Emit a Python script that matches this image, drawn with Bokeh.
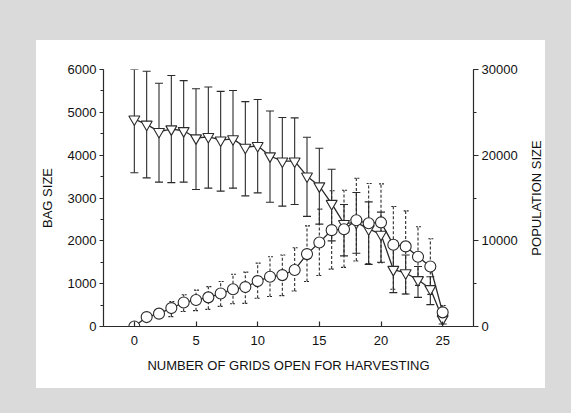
from bokeh.plotting import figure
from bokeh.models import (Range1d, LinearAxis, SingleIntervalTicker, FixedTicker,
                          Whisker, TeeHead, ColumnDataSource, Spacer)
from bokeh.layouts import column, row
from bokeh.embed import file_html
from bokeh.resources import INLINE

# ---- data ----
grids = list(range(26))

bag_size = [4840, 4720, 4550, 4610, 4570, 4400, 4430, 4350, 4380, 4180,
            4220, 3980, 3860, 3860, 3510, 3280, 2870, 2400, 2430, 2280,
            2150, 1330, 1250, 1090, 880, 180]
bag_upper = [6000, 5960, 5680, 5860, 5740, 5550, 5590, 5490, 5510, 5250,
             5300, 5030, 4880, 4870, 4420, 4160, 3670, 2850, 3130, 2910,
             2670, 2000, 1670, 1400, 1160, 330]
bag_lower = [3590, 3470, 3370, 3360, 3370, 3200, 3230, 3160, 3230, 3050,
             3120, 2900, 2810, 2850, 2570, 2390, 2000, 1650, 1710, 1450,
             1500, 790, 760, 680, 510, 60]

pop_size = [0, 1100, 1500, 2150, 2800, 3100, 3400, 3850, 4350, 4600,
            5300, 5800, 6000, 6600, 8450, 9800, 11250, 11350, 12400, 12050,
            12150, 9550, 9350, 8150, 7000, 1650]
pop_upper = [0, 1300, 1950, 2900, 3700, 4250, 4650, 5250, 6100, 6350,
             7400, 8150, 8350, 9200, 11750, 13700, 15850, 15900, 17300, 16700,
             16650, 14000, 13500, 11650, 10250, 2450]
pop_lower = [0, 850, 1000, 1150, 1750, 1850, 2000, 2350, 2650, 2700,
             3300, 3500, 3600, 4150, 5250, 5950, 6700, 6900, 7650, 7350,
             7450, 4350, 3800, 4800, 3750, 1000]

x_ticks_interval = 5
bag_ticks_interval = 1000
pop_ticks_interval = 10000

x_title = "NUMBER OF GRIDS OPEN FOR HARVESTING"
left_title = "BAG SIZE"
right_title = "POPULATION SIZE"

# ---- styling ----
FONT = "Liberation Sans"
TXT = "#111111"
LINE = "#2a2a2a"
BG = "#dadada"

p = figure(width=484, height=348, output_backend="svg", toolbar_location=None,
           x_range=Range1d(-2.5, 27.5), y_range=Range1d(0, 6000),
           min_border_left=65, min_border_right=45, min_border_top=29,
           min_border_bottom=62, border_fill_color="white",
           background_fill_color="white", outline_line_color=None)
p.extra_y_ranges = {"pop": Range1d(0, 30000)}
p.grid.visible = False

# axes
p.xaxis.ticker = SingleIntervalTicker(interval=x_ticks_interval, num_minor_ticks=0)
p.yaxis.ticker = SingleIntervalTicker(interval=bag_ticks_interval, num_minor_ticks=2)
p.xaxis.axis_label = x_title
p.yaxis.axis_label = left_title

right = LinearAxis(y_range_name="pop",
                   ticker=SingleIntervalTicker(interval=pop_ticks_interval, num_minor_ticks=2))
p.add_layout(right, "right")

for ax in [p.xaxis[0], p.yaxis[0], right]:
    ax.axis_line_color = LINE
    ax.axis_line_width = 1.2
    ax.major_tick_line_color = LINE
    ax.minor_tick_line_color = LINE
    ax.major_tick_line_width = 1.2
    ax.major_label_text_font = FONT
    ax.major_label_text_font_size = "13px"
    ax.major_label_text_color = TXT
    ax.axis_label_text_font = FONT
    ax.axis_label_text_font_size = "13px"
    ax.axis_label_text_font_style = "normal"
    ax.axis_label_text_color = TXT

xa = p.xaxis[0]
xa.major_tick_in = 5
xa.major_tick_out = 0
xa.minor_tick_in = 0
xa.minor_tick_out = 0
xa.major_label_standoff = 9
xa.axis_label_standoff = 10

ya = p.yaxis[0]
ya.major_tick_in = 0
ya.major_tick_out = 4
ya.minor_tick_in = 0
ya.minor_tick_out = 3
ya.major_label_standoff = 3
ya.axis_label_standoff = 10

right.major_tick_in = 0
right.major_tick_out = 5
right.minor_tick_in = 0
right.minor_tick_out = 3
right.major_label_standoff = 3

src = ColumnDataSource(dict(x=grids, bag=bag_size, bu=bag_upper, bl=bag_lower,
                            pop=pop_size, pu=pop_upper, pl=pop_lower))

# error bars
w_bag = Whisker(source=src, base="x", upper="bu", lower="bl",
                line_color=LINE, line_width=1.1,
                upper_head=TeeHead(size=8, line_color=LINE, line_width=1.1),
                lower_head=TeeHead(size=8, line_color=LINE, line_width=1.1),
                level="underlay")
w_pop = Whisker(source=src, base="x", upper="pu", lower="pl", y_range_name="pop",
                line_color=LINE, line_width=1.1, line_dash="3 2",
                upper_head=TeeHead(size=6, line_color=LINE, line_width=1.1, line_dash="2 1"),
                lower_head=TeeHead(size=6, line_color=LINE, line_width=1.1, line_dash="2 1"),
                level="underlay")
p.add_layout(w_bag)
p.add_layout(w_pop)

# bag size series (left axis)
p.line("x", "bag", source=src, line_color=LINE, line_width=1.3)
p.scatter("x", "bag", source=src, marker="inverted_triangle", size=11,
          fill_color="white", line_color=LINE, line_width=1.1)

# population series (right axis)
p.line("x", "pop", source=src, y_range_name="pop", line_color=LINE, line_width=1.3)
p.scatter("x", "pop", source=src, y_range_name="pop", marker="circle", size=11,
          fill_color="white", line_color=LINE, line_width=1.1)

# narrow strip holding the right-hand title, which reads bottom-to-top
t = figure(width=25, height=348, output_backend="svg", toolbar_location=None,
           x_axis_location=None, y_axis_location="left",
           x_range=Range1d(0, 1), y_range=Range1d(0, 1),
           min_border_left=23, min_border_right=0, min_border_top=29,
           min_border_bottom=62, border_fill_color="white",
           background_fill_color="white", outline_line_color=None)
t.grid.visible = False
ta = t.yaxis[0]
ta.ticker = FixedTicker(ticks=[])
ta.axis_line_color = None
ta.major_tick_out = 0
ta.major_tick_in = 0
ta.minor_tick_out = 0
ta.minor_tick_in = 0
ta.axis_label = right_title
ta.axis_label_standoff = 0
ta.axis_label_text_font = FONT
ta.axis_label_text_font_size = "13px"
ta.axis_label_text_font_style = "normal"
ta.axis_label_text_color = TXT

panel = row(p, t, width=509, height=348, styles={"background-color": "white"})

layout = column(Spacer(width=571, height=40),
                row(Spacer(width=36, height=348), panel),
                width=571, height=413,
                styles={"background-color": BG})

open("out.html", "w").write(file_html(layout, INLINE))
